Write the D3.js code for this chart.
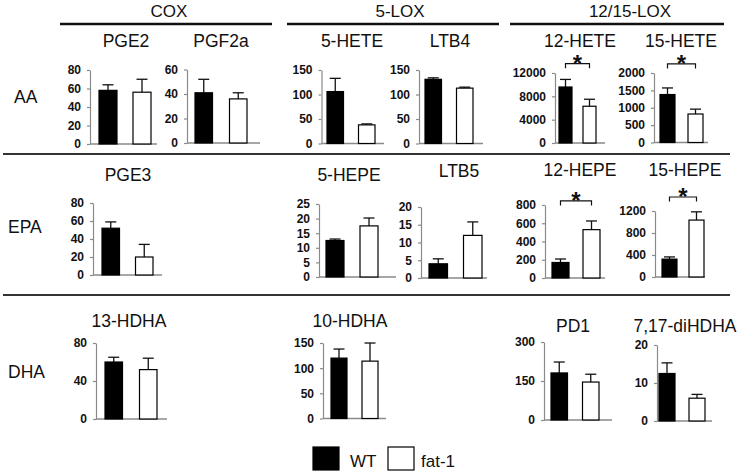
<!DOCTYPE html>
<html>
<head>
<meta charset="utf-8">
<script src="https://cdn.jsdelivr.net/npm/d3@7"></script>
<style>
  html, body { margin: 0; padding: 0; background: #fff; }
  svg { display: block; font-family: "Liberation Sans", Arial, sans-serif; }
</style>
</head>
<body>
<svg id="chart" width="744" height="475"></svg>
<script>
// ---------------- DATA ----------------
const enzymes = ["COX", "5-LOX", "12/15-LOX"];
const rowLabels = ["AA", "EPA", "DHA"];
const groups = ["WT", "fat-1"];
const panelNames = ["PGE2", "PGF2a", "5-HETE", "LTB4", "12-HETE", "15-HETE",
                    "PGE3", "5-HEPE", "LTB5", "12-HEPE", "15-HEPE",
                    "13-HDHA", "10-HDHA", "PD1", "7,17-diHDHA"];
const wtMean  = [58, 41, 106, 131, 9600, 1380, 52, 12.5, 4, 170, 325, 60, 120, 181, 12.5];
const wtErr   = [6, 11, 27, 3, 1300, 190, 7, 0.5, 1.4, 38, 40, 5, 18, 42, 2.8];
const fatMean = [56, 36, 38, 113, 6300, 820, 20, 17.5, 12, 530, 1035, 52, 114, 146, 6];
const fatErr  = [14, 5, 2, 2, 1200, 140, 14, 2.7, 3.8, 95, 150, 12, 36, 30, 1];
const yMax    = [80, 60, 150, 150, 12000, 2000, 80, 25, 20, 800, 1200, 80, 150, 300, 20];
const yTicks  = [[0,20,40,60,80],[0,20,40,60],[0,50,100,150],[0,50,100,150],
                 [0,4000,8000,12000],[0,500,1000,1500,2000],
                 [0,20,40,60,80],[0,5,10,15,20,25],[0,5,10,15,20],[0,200,400,600,800],[0,400,800,1200],
                 [0,40,80],[0,50,100,150],[0,150,300],[0,10,20]];
const sigPanels = ["12-HETE", "15-HETE", "12-HEPE", "15-HEPE"];
const sigLevel  = [13600, 2260, 845, 1455];   // bracket height in data units

// ---------------- LAYOUT ----------------
// ax: y-axis x, ex: x-axis end, yb: y(0), yt: y(max), bl/br: bar span, bw: bar width, tx/ty: title
const layout = [
  {ax:90,  ex:157, yb:144,   yt:70,   bl:99,  br:151, bw:18,   tx:126, ty:47},
  {ax:187, ex:260, yb:143,   yt:69.5, bl:195, br:247, bw:17.5, tx:221, ty:47},
  {ax:321.5,ex:384,yb:143.5, yt:70,   bl:327, br:375, bw:16.5, tx:352, ty:47},
  {ax:419, ex:483, yb:143.5, yt:70,   bl:425, br:473, bw:16.5, tx:450, ty:47},
  {ax:555, ex:605, yb:143,   yt:73,   bl:559, br:596, bw:13,   tx:580, ty:47},
  {ax:654, ex:708, yb:142.5, yt:73,   bl:660, br:703, bw:15,   tx:681, ty:47},
  {ax:93,  ex:162, yb:275,   yt:203,  bl:102, br:153, bw:17.5, tx:128, ty:181},
  {ax:319, ex:396, yb:277,   yt:204,  bl:326, br:378, bw:18,   tx:349, ty:181},
  {ax:421, ex:487, yb:278,   yt:207,  bl:429, br:482, bw:18.5, tx:459, ty:177},
  {ax:545, ex:605, yb:278,   yt:205,  bl:552, br:600, bw:17,   tx:580, ty:176},
  {ax:655, ex:705, yb:277,   yt:211,  bl:662, br:704, bw:15,   tx:685, ty:176},
  {ax:96,  ex:167, yb:419,   yt:343,  bl:105, br:157, bw:17.5, tx:129, ty:327},
  {ax:323, ex:386, yb:418.5, yt:343,  bl:331, br:378, bw:16,   tx:350, ty:327},
  {ax:544, ex:612, yb:420,   yt:342,  bl:551, br:599, bw:16.5, tx:573, ty:332},
  {ax:657, ex:712, yb:421,   yt:345,  bl:659, br:705, bw:16,   tx:685, ty:332}
];
const headerLayout = [
  {tx:169, x1:60,  x2:272},
  {tx:400, x1:287, x2:499},
  {tx:630, x1:510, x2:724}
];
const rowLayout = [{x:14, y:103}, {x:8, y:233}, {x:8, y:378}];
const separators = [154, 295];

const axisColor = "#8a8a8a";
const svg = d3.select("#chart");

// headers
headerLayout.forEach((h, i) => {
  svg.append("text").attr("x", h.tx).attr("y", 17).attr("text-anchor", "middle")
    .attr("font-size", 17).attr("fill", "#111").text(enzymes[i]);
  svg.append("line").attr("x1", h.x1).attr("x2", h.x2).attr("y1", 24).attr("y2", 24)
    .attr("stroke", "#111").attr("stroke-width", 2.5);
});
separators.forEach(y => {
  svg.append("line").attr("x1", 3).attr("x2", 730).attr("y1", y).attr("y2", y)
    .attr("stroke", "#333").attr("stroke-width", 2);
});
rowLabels.forEach((r, i) => {
  svg.append("text").attr("x", rowLayout[i].x).attr("y", rowLayout[i].y)
    .attr("font-size", 17.5).attr("fill", "#111").text(r);
});

// panels
panelNames.forEach((name, i) => {
  const L = layout[i];
  const g = svg.append("g");
  const y = d3.scaleLinear().domain([0, yMax[i]]).range([L.yb, L.yt]);
  const span = L.br - L.bl;
  const pad = (span - 2 * L.bw) / (span - L.bw);
  const x = d3.scaleBand().domain(groups).range([L.bl, L.br]).paddingInner(pad).paddingOuter(0);

  g.append("text").attr("x", L.tx).attr("y", L.ty).attr("text-anchor", "middle")
    .attr("font-size", 17.5).attr("fill", "#111").text(name);

  const yAxis = d3.axisLeft(y).tickValues(yTicks[i]).tickSize(3).tickSizeOuter(0).tickPadding(6)
    .tickFormat(d3.format("d"));
  const ag = g.append("g").attr("transform", `translate(${L.ax},0)`).call(yAxis);
  ag.select(".domain").attr("stroke", axisColor).attr("stroke-width", 1.2);
  ag.selectAll(".tick line").attr("stroke", axisColor).attr("stroke-width", 1.2);
  ag.selectAll(".tick text").attr("font-size", 12).attr("font-weight", "bold")
    .attr("fill", "#111").attr("font-family", "'Liberation Sans', Arial, sans-serif");

  g.append("line").attr("x1", L.ax).attr("x2", L.ex).attr("y1", L.yb).attr("y2", L.yb)
    .attr("stroke", axisColor).attr("stroke-width", 1.4);

  const vals = [
    {k: "WT", m: wtMean[i], e: wtErr[i]},
    {k: "fat-1", m: fatMean[i], e: fatErr[i]}
  ];
  const bw = x.bandwidth();
  // error bars
  vals.forEach(v => {
    const cx = x(v.k) + bw / 2;
    g.append("line").attr("x1", cx).attr("x2", cx).attr("y1", y(v.m)).attr("y2", y(v.m + v.e))
      .attr("stroke", "#111").attr("stroke-width", 1.3);
    g.append("line").attr("x1", cx - 5.5).attr("x2", cx + 5.5)
      .attr("y1", y(v.m + v.e)).attr("y2", y(v.m + v.e))
      .attr("stroke", "#111").attr("stroke-width", 1.3);
  });
  g.selectAll("rect.bar").data(vals).enter().append("rect").attr("class", "bar")
    .attr("x", d => x(d.k)).attr("width", bw)
    .attr("y", d => y(d.m)).attr("height", d => L.yb - y(d.m))
    .attr("fill", d => d.k === "WT" ? "#000" : "#fff")
    .attr("stroke", "#000").attr("stroke-width", 1.2);

  const si = sigPanels.indexOf(name);
  if (si >= 0) {
    const by = y(sigLevel[si]);
    const c1 = x("WT") + bw / 2, c2 = x("fat-1") + bw / 2;
    g.append("path").attr("d", `M${c1},${by + 4.5}V${by}H${c2}V${by + 4.5}`)
      .attr("fill", "none").attr("stroke", "#111").attr("stroke-width", 1.2);
    g.append("text").attr("x", (c1 + c2) / 2).attr("y", by + 8).attr("text-anchor", "middle")
      .attr("font-size", 24).attr("font-weight", "bold").attr("fill", "#111").text("*");
  }
});

// legend
const legend = [
  {k: "WT", rx: 313, tx: 350, fill: "#000"},
  {k: "fat-1", rx: 388, tx: 421, fill: "#fff"}
];
legend.forEach(l => {
  svg.append("rect").attr("x", l.rx).attr("y", 447).attr("width", 26).attr("height", 23)
    .attr("fill", l.fill).attr("stroke", "#000").attr("stroke-width", 1.2);
  svg.append("text").attr("x", l.tx).attr("y", 467).attr("font-size", 17).attr("fill", "#111").text(l.k);
});
</script>
</body>
</html>
